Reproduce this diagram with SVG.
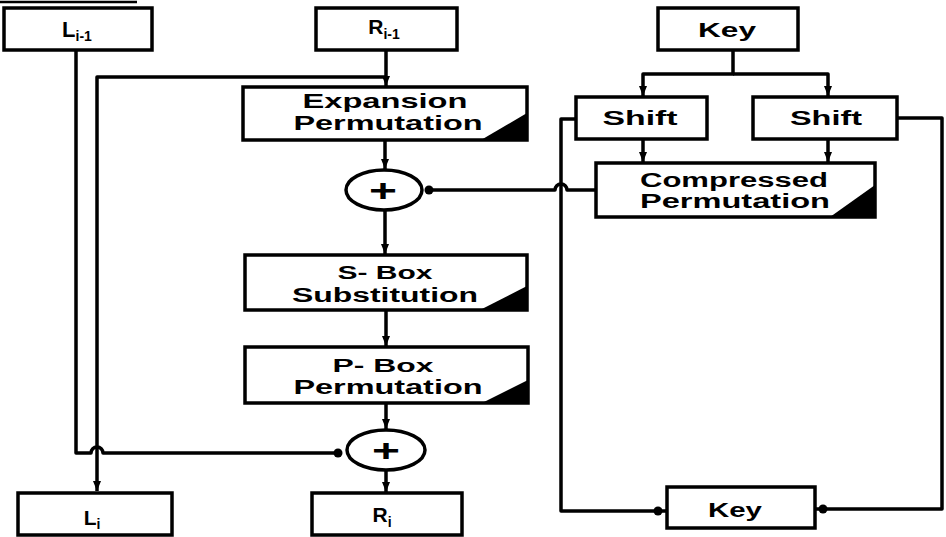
<svg xmlns="http://www.w3.org/2000/svg" width="946" height="537" viewBox="0 0 946 537">
<defs>
<style>
.box{fill:#fff;stroke:#000;stroke-width:3.5}
.tri{fill:#000}
.ln{fill:none;stroke:#000;stroke-width:3.5;stroke-linejoin:round}
.t{font-family:"Liberation Sans",Arial,sans-serif;font-weight:bold;fill:#000;text-anchor:middle}
.xor{fill:#fff;stroke:#000;stroke-width:3.5}
.dot{fill:#000}
</style>
<marker id="ah" viewBox="0 0 10 8" refX="10" refY="4" markerWidth="10" markerHeight="8" markerUnits="userSpaceOnUse" orient="auto">
<path d="M0,0 L10,4 L0,8 Z" fill="#000"/>
</marker>
</defs>
<rect width="946" height="537" fill="#fff"/>
<line x1="0" y1="2" x2="137" y2="2" stroke="#000" stroke-width="2.5"/>

<g id="connectors">
<path class="ln" d="M76,50 V453 H91 A6,6 0 0 1 103,453 H338"/>
<path class="ln" d="M386,50 V77 H97 V491" marker-end="url(#ah)"/>
<path class="ln" d="M386,77 V86" marker-end="url(#ah)"/>
<path class="ln" d="M385,140 V169" marker-end="url(#ah)"/>
<path class="ln" d="M385,210 V254" marker-end="url(#ah)"/>
<path class="ln" d="M386,310 V346" marker-end="url(#ah)"/>
<path class="ln" d="M386,403 V429" marker-end="url(#ah)"/>
<path class="ln" d="M386,469 V492" marker-end="url(#ah)"/>
<path class="ln" d="M429,190 H555 A6,6 0 0 1 567,190 H595"/>
<path class="ln" d="M733,50 V74 H643 V96" marker-end="url(#ah)"/>
<path class="ln" d="M733,74 H828 V96" marker-end="url(#ah)"/>
<path class="ln" d="M643,139 V162" marker-end="url(#ah)"/>
<path class="ln" d="M828,139 V162" marker-end="url(#ah)"/>
<path class="ln" d="M576,119 H561 V511 H667"/>
<path class="ln" d="M897,118 H942 V509 H815"/>
<circle class="dot" cx="429" cy="190" r="4.5"/>
<circle class="dot" cx="338" cy="453" r="4.5"/>
<circle class="dot" cx="658" cy="511" r="4.5"/>
<circle class="dot" cx="823" cy="509" r="4.5"/>
</g>

<g id="L_prev">
<rect class="box" x="4" y="8" width="148" height="42"/>
<text class="t" x="77" y="37" font-size="22">L<tspan font-size="14" dy="4">i-1</tspan></text>
</g>

<g id="R_prev">
<rect class="box" x="316" y="8" width="141" height="42"/>
<text class="t" x="384" y="34" font-size="21">R<tspan font-size="14" dy="5">i-1</tspan></text>
</g>

<g id="Key_top">
<rect class="box" x="658" y="8" width="140" height="42"/>
<text class="t" x="727" y="37" font-size="20" textLength="58" lengthAdjust="spacingAndGlyphs">Key</text>
</g>

<g id="Expansion">
<rect class="box" x="243" y="87" width="284" height="53"/>
<path class="tri" d="M481,140 L527,113 L527,140 Z"/>
<text class="t" x="385" y="108" font-size="21" textLength="165" lengthAdjust="spacingAndGlyphs">Expansion</text>
<text class="t" x="388" y="130" font-size="21" textLength="189" lengthAdjust="spacingAndGlyphs">Permutation</text>
</g>

<g id="XOR1">
<ellipse class="xor" cx="384" cy="190" rx="38" ry="20"/>
<text class="t" x="383" y="201" font-size="32" textLength="28" lengthAdjust="spacingAndGlyphs">+</text>
</g>

<g id="Shift1">
<rect class="box" x="576" y="97" width="131" height="42"/>
<text class="t" x="640" y="125" font-size="20" textLength="75" lengthAdjust="spacingAndGlyphs">Shift</text>
</g>

<g id="Shift2">
<rect class="box" x="753" y="97" width="144" height="42"/>
<text class="t" x="826" y="125" font-size="20" textLength="72" lengthAdjust="spacingAndGlyphs">Shift</text>
</g>

<g id="Compressed">
<rect class="box" x="596" y="163" width="279" height="54"/>
<path class="tri" d="M830,217 L875,185 L875,217 Z"/>
<text class="t" x="734" y="187" font-size="20" textLength="188" lengthAdjust="spacingAndGlyphs">Compressed</text>
<text class="t" x="735" y="208" font-size="20" textLength="190" lengthAdjust="spacingAndGlyphs">Permutation</text>
</g>

<g id="SBox">
<rect class="box" x="245" y="255" width="282" height="55"/>
<path class="tri" d="M480,310 L527,286 L527,310 Z"/>
<text class="t" x="385" y="279" font-size="19" textLength="95" lengthAdjust="spacingAndGlyphs">S- Box</text>
<text class="t" x="385" y="302" font-size="20" textLength="186" lengthAdjust="spacingAndGlyphs">Substitution</text>
</g>

<g id="PBox">
<rect class="box" x="245" y="347" width="283" height="56"/>
<path class="tri" d="M482,403 L528,380 L528,403 Z"/>
<text class="t" x="383" y="372" font-size="19" textLength="101" lengthAdjust="spacingAndGlyphs">P- Box</text>
<text class="t" x="388" y="394" font-size="20" textLength="189" lengthAdjust="spacingAndGlyphs">Permutation</text>
</g>

<g id="XOR2">
<ellipse class="xor" cx="386" cy="450" rx="39" ry="20"/>
<text class="t" x="386" y="461" font-size="32" textLength="28" lengthAdjust="spacingAndGlyphs">+</text>
</g>

<g id="L_i">
<rect class="box" x="18" y="493" width="154" height="42"/>
<text class="t" x="92" y="525" font-size="21">L<tspan font-size="14" dy="4">i</tspan></text>
</g>

<g id="R_i">
<rect class="box" x="312" y="493" width="150" height="42"/>
<text class="t" x="382" y="522" font-size="21">R<tspan font-size="14" dy="5">i</tspan></text>
</g>

<g id="Key_bottom">
<rect class="box" x="667" y="487" width="148" height="41"/>
<text class="t" x="735" y="517" font-size="20" textLength="54" lengthAdjust="spacingAndGlyphs">Key</text>
</g>
</svg>
